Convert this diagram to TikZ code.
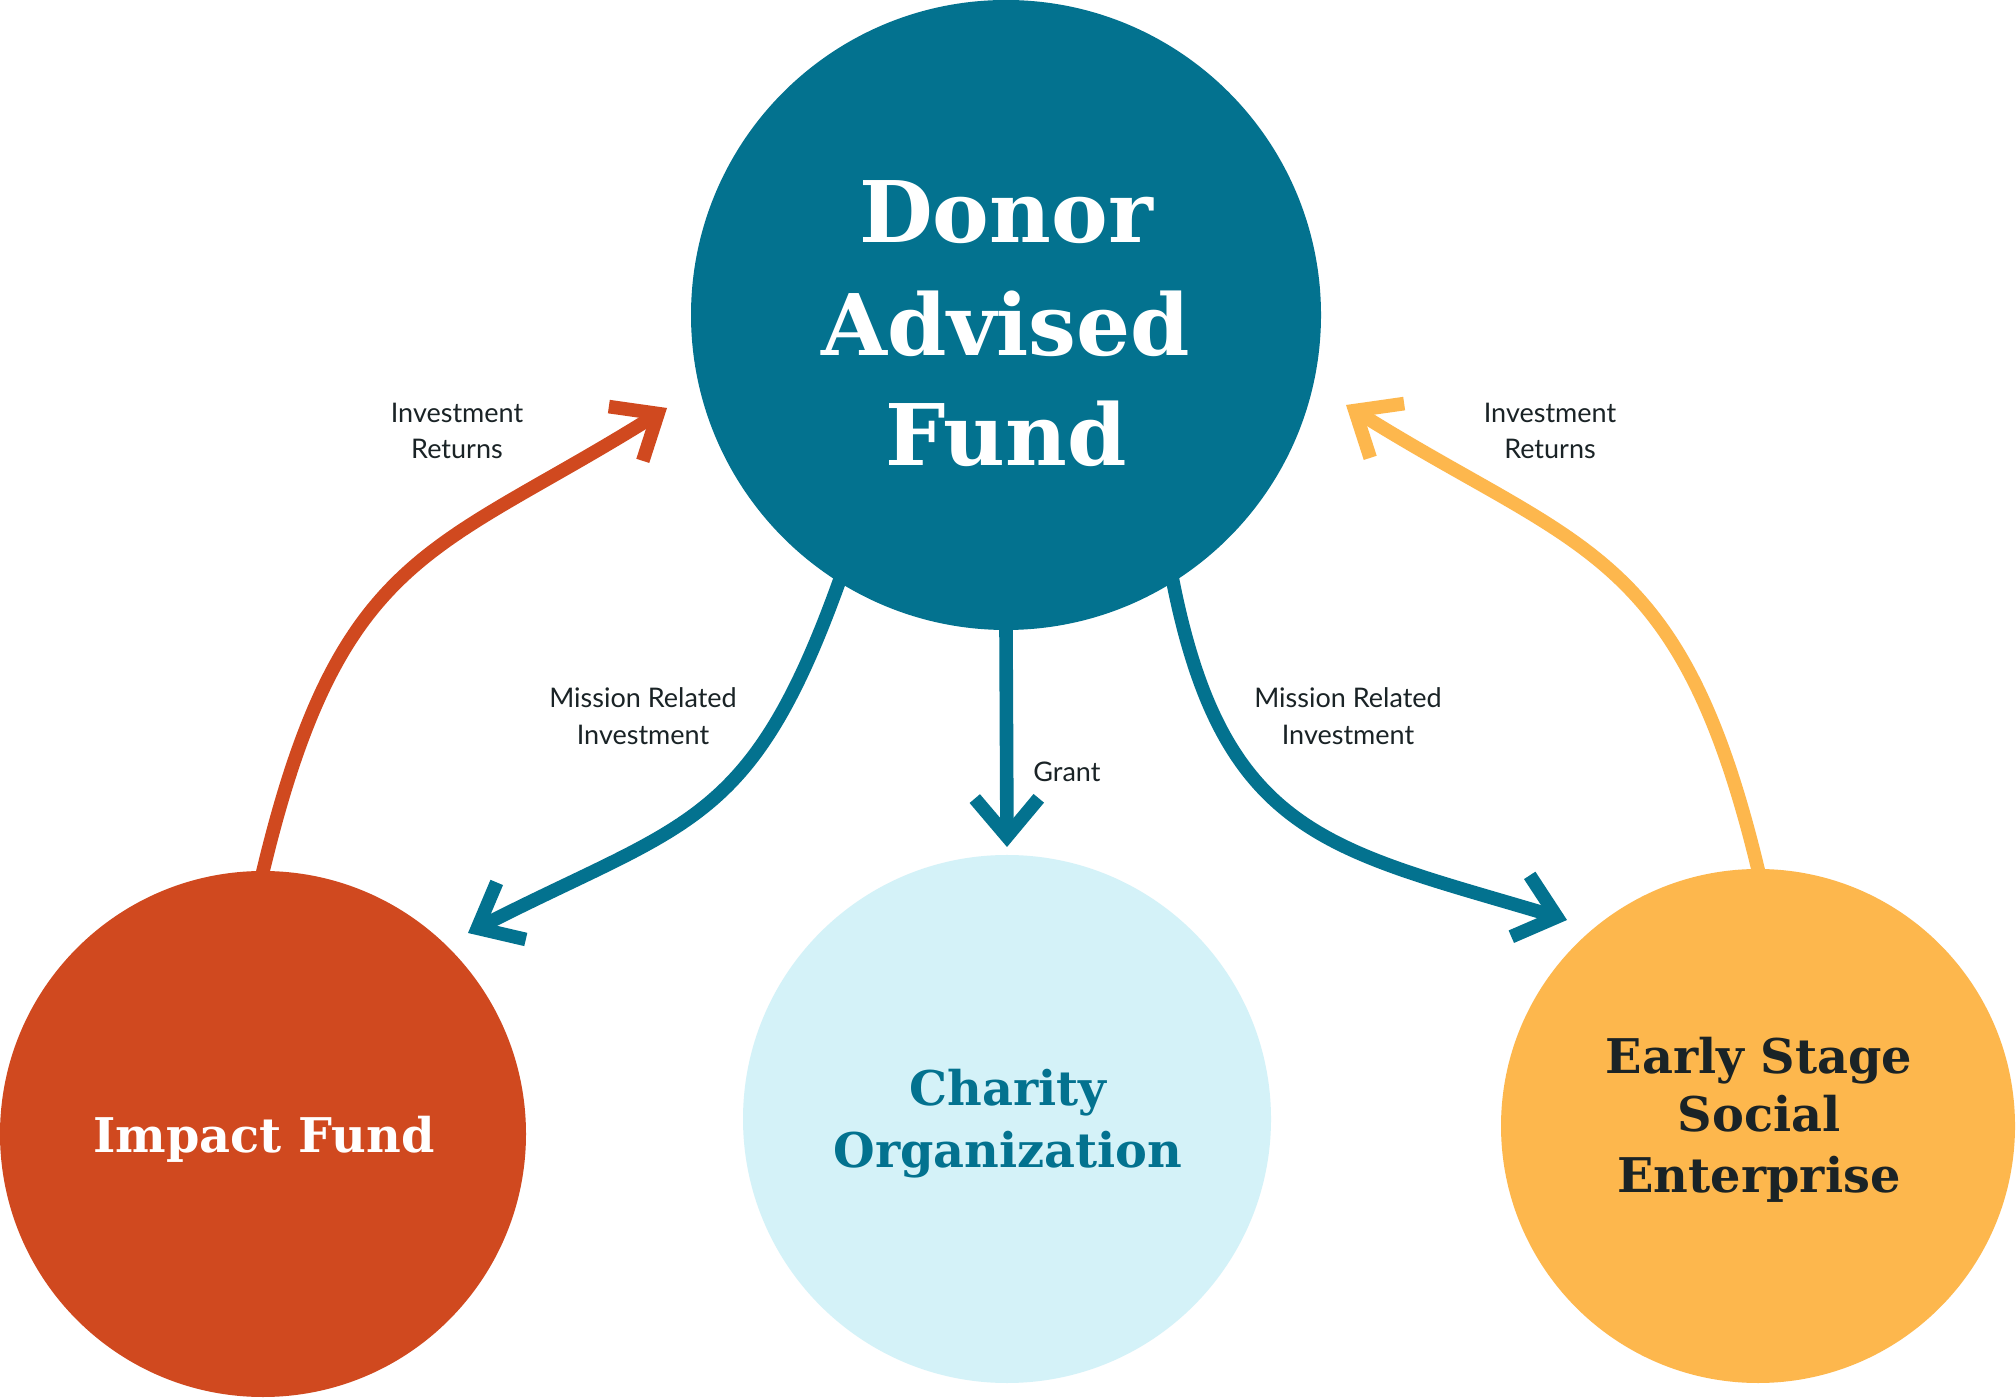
\documentclass[tikz,border=0pt]{standalone}
\usepackage{fontspec}
\setmainfont{DejaVu Serif}
\newfontfamily\labelfont{Lato}
\usetikzlibrary{arrows.meta}
\pgfdeclarelayer{bg}
\pgfsetlayers{bg,main}
\definecolor{dafteal}{RGB}{3,114,143}
\definecolor{impactorange}{RGB}{208,73,31}
\definecolor{charitycyan}{RGB}{212,242,248}
\definecolor{earlyyellow}{RGB}{253,183,77}
\definecolor{ink}{RGB}{26,35,38}
\tikzset{
  bubble/.style={circle, inner sep=0pt, outer sep=0pt, draw=none},
  flow/.style={line width=6.8pt, line cap=butt,
    -{Straight Barb[length=19pt, width=32pt, line cap=butt, line join=miter]}},
  bigtxt/.style={font=\bfseries\fontsize{42.5}{50}\selectfont, anchor=base, inner sep=0pt, text=white},
  midtxt/.style={font=\bfseries\fontsize{23.9}{28}\selectfont, anchor=base, inner sep=0pt},
  lbl/.style={font=\labelfont\fontsize{13.5}{18}\selectfont, text=ink, anchor=base, inner sep=0pt},
}
\begin{document}
\begin{tikzpicture}[x=0.5pt, y=0.5pt]
\useasboundingbox (0,0) rectangle (2016,1397);

% circles
\node[bubble, fill=dafteal, minimum size=315pt] (donor) at (1006,1082) {};
\node[bubble, fill=impactorange, minimum size=263pt] (impact) at (263,263) {};
\node[bubble, fill=charitycyan, minimum size=264pt] (charity) at (1007,278) {};
\node[bubble, fill=earlyyellow, minimum size=257pt] (early) at (1758,271) {};

% circle texts
\node[bigtxt] (dafA) at (1006,1154) {Donor};
\node[bigtxt] (dafB) at (1006,1041) {Advised};
\node[bigtxt] (dafC) at (1006,931) {Fund};
\node[midtxt, text=white] (impT) at (264,245) {Impact Fund};
\node[midtxt, text=dafteal] (chaA) at (1008,292) {Charity};
\node[midtxt, text=dafteal] (chaB) at (1008,230) {Organization};
\node[midtxt, text=ink] (earA) at (1759,323) {Early Stage};
\node[midtxt, text=ink] (earB) at (1759,265) {Social};
\node[midtxt, text=ink] (earC) at (1759,205) {Enterprise};

% free ends of the arrows
\coordinate (tipL) at (667,989);
\coordinate (tipR) at (1346,992);
\coordinate (tipML) at (468,464);
\coordinate (tipMR) at (1567,477);
\coordinate (tipG) at (1007,550);

\begin{pgfonlayer}{bg}
\fill[white] (0,0) rectangle (2016,1397);
\draw[flow, draw=impactorange, shorten <=-8pt]
  (impact.north) to[out=77, in=212, out distance=165pt, in distance=140pt] (tipL);
\draw[flow, draw=earlyyellow, shorten <=-8pt]
  (early.north) to[out=103, in=328, out distance=165pt, in distance=140pt] (tipR);
\draw[flow, draw=dafteal, shorten <=-8pt]
  (donor.238) to[out=250.7, in=27, out distance=130pt, in distance=125pt] (tipML);
\draw[flow, draw=dafteal, shorten <=-8pt]
  (donor.302) to[out=280.4, in=163.3, out distance=130pt, in distance=125pt] (tipMR);
\draw[flow, draw=dafteal, shorten <=-8pt] (donor.south) -- (tipG);
\end{pgfonlayer}

% connector labels
\node[lbl] (irLa) at (457,974) {Investment};
\node[lbl] (irLb) at (457,938) {Returns};
\node[lbl] (irRa) at (1550,974) {Investment};
\node[lbl] (irRb) at (1550,938) {Returns};
\node[lbl] (mrLa) at (643,689) {Mission Related};
\node[lbl] (mrLb) at (643,652) {Investment};
\node[lbl] (mrRa) at (1348,689) {Mission Related};
\node[lbl] (mrRb) at (1348,652) {Investment};
\node[lbl, anchor=base west] (grant) at (1033,615) {Grant};
\end{tikzpicture}
\end{document}
